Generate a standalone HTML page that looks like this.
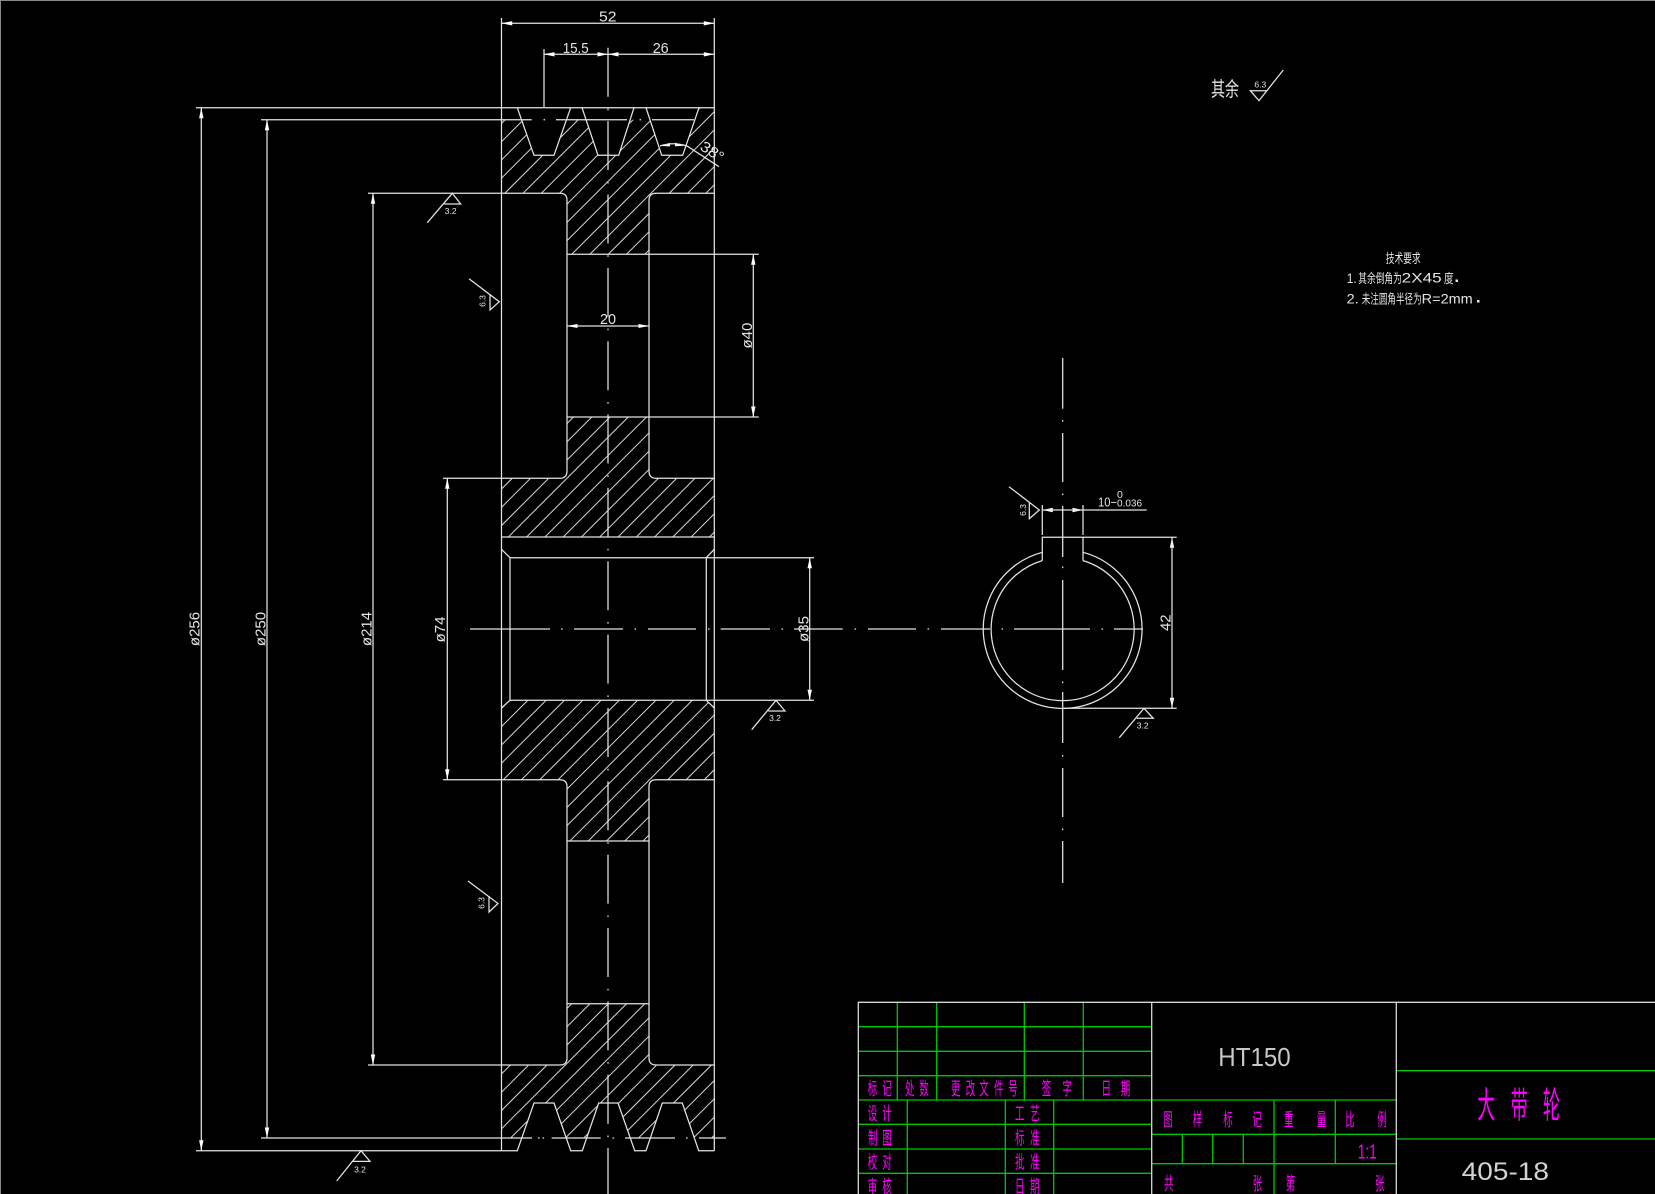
<!DOCTYPE html>
<html><head><meta charset="utf-8"><title>Pulley drawing</title>
<style>
html,body{margin:0;padding:0;background:#000;width:1655px;height:1194px;overflow:hidden}
svg{display:block}
.l{fill:none;stroke:#e4e4e4;stroke-width:1.25}
.h{fill:none;stroke:#d8d8d8;stroke-width:1}
.g{fill:none;stroke:#00c800;stroke-width:1.3}
.w{fill:none;stroke:#d8d8d8;stroke-width:1.3}
text{font-family:"Liberation Sans","Noto Sans CJK SC",sans-serif}
.d{fill:#e4e4e4;font-size:15px}
.s{fill:#e4e4e4;font-size:8.5px;text-anchor:middle}
.m{fill:#f0f;font-size:18px}
.c{fill:#e4e4e4;font-size:13px}
</style></head><body>
<svg xmlns="http://www.w3.org/2000/svg" width="1655" height="1194" viewBox="0 0 1655 1194">
<rect width="1655" height="1194" fill="#000"/>
<path d="M0 .5H1655M.5 0V1194" stroke="#888" stroke-width="1" fill="none"/>
<defs>
<clipPath id="hc">
<polygon points="501.5,119.7 521.5,119.7 534,155.3 554,155.3 566.5,119.7 586,119.7 598,155.3 618.7,155.3 631,119.7 650,119.7 661.7,155.3 682.7,155.3 695,119.7 699,108 714.3,108 714.3,193 656,193 651,195 649,200 649,254.3 567,254.3 567,200 565,195 560,193 501.5,193"/>
<polygon points="567,417 649,417 649,471 651,476 656,478 714.3,478 714.3,537 501.5,537 501.5,478 560,478 565,476 567,471"/>
<polygon points="510,700.3 706.3,700.3 714.3,708 714.3,780 656,780 651,782 649,787 649,841 567,841 567,787 565,782 560,780 501.5,780 501.5,708"/>
<polygon points="567,1003.7 649,1003.7 649,1058 651,1063 656,1065 714.3,1065 714.3,1138 694.3,1138 682.3,1103 662.3,1103 650.3,1138 630.3,1138 618,1103 598.7,1103 586.7,1138 566.3,1138 554,1103 534,1103 521.7,1138 501.5,1138 501.5,1065 560,1065 565,1063 567,1058"/>
</clipPath>
</defs>
<!-- hatching -->
<path class="h" clip-path="url(#hc)" d="M606.6 0L0 606.6M624.9 0L0 624.9M643.2 0L0 643.2M661.4 0L0 661.4M679.7 0L0 679.7M698 0L0 698M716.3 0L0 716.3M734.6 0L0 734.6M752.8 0L0 752.8M771.1 0L0 771.1M789.4 0L0 789.4M807.7 0L0 807.7M826 0L0 826M844.2 0L0 844.2M862.5 0L0 862.5M880.8 0L0 880.8M899.1 0L0 899.1M917.4 0L0 917.4M935.6 0L0 935.6M953.9 0L0 953.9M972.2 0L0 972.2M990.5 0L0 990.5M1008.8 0L0 1008.8M1027 0L0 1027M1045.3 0L0 1045.3M1063.6 0L0 1063.6M1081.9 0L0 1081.9M1100.2 0L0 1100.2M1118.4 0L0 1118.4M1136.7 0L0 1136.7M1155 0L0 1155M1173.3 0L0 1173.3M1191.6 0L0 1191.6M1209.8 0L0 1209.8M1228.1 0L0 1228.1M1246.4 0L0 1246.4M1264.7 0L0 1264.7M1283 0L0 1283M1301.2 0L0 1301.2M1319.5 0L0 1319.5M1337.8 0L0 1337.8M1356.1 0L0 1356.1M1374.4 0L0 1374.4M1392.6 0L0 1392.6M1410.9 0L0 1410.9M1429.2 0L0 1429.2M1447.5 0L0 1447.5M1465.8 0L0 1465.8M1484 0L0 1484M1502.3 0L0 1502.3M1520.6 0L0 1520.6M1538.9 0L0 1538.9M1557.2 0L0 1557.2M1575.4 0L0 1575.4M1593.7 0L0 1593.7M1612 0L0 1612M1630.3 0L0 1630.3M1648.6 0L0 1648.6M1666.8 0L0 1666.8M1685.1 0L0 1685.1M1703.4 0L0 1703.4M1721.7 0L0 1721.7M1740 0L0 1740M1758.2 0L0 1758.2M1776.5 0L0 1776.5M1794.8 0L0 1794.8M1813.1 0L0 1813.1M1831.4 0L0 1831.4M1849.6 0L0 1849.6M1867.9 0L0 1867.9"/>
<!-- section outline -->
<path class="l" d="M501.5 18V1150.7M714.3 18V1150.7"/>
<path class="l" d="M196 107.7H714.3M517.3 107.7L534 155.3H554L570.7 107.7M582 107.7L598 155.3H618.7L634 107.7M646 107.7L661.7 155.3H682.7L699 107.7"/>
<path class="l" d="M196 1150.7H517.3L534 1103H554L570.7 1150.7H582.3L598.7 1103H618L634.7 1150.7H646L662.3 1103H682.3L698.7 1150.7H714.3"/>
<path class="l" d="M368 193.3H560Q567 193.3 567 200.3V471Q567 478.3 560 478.3H443"/>
<path class="l" d="M714.3 193.3H656Q649 193.3 649 200.3V471Q649 478.3 656 478.3H714.3"/>
<path class="l" d="M443 779.7H560Q567 779.7 567 786.7V1058Q567 1065 560 1065H368"/>
<path class="l" d="M714.3 779.7H656Q649 779.7 649 786.7V1058Q649 1065 656 1065H714.3"/>
<path class="l" d="M567 254.3H758.7M567 417H758.7M567 841H649M567 1003.7H649"/>
<path class="l" d="M501.5 537H714.3M501.5 549.3L510 557.7M714.3 549.3L706.3 557.7M501.5 708L510 700.3M714.3 708L706.3 700.3"/>
<path class="l" d="M510 557.7H814M510 700.3H814M510 557.7V700.3M706.3 557.7V700.3"/>
<!-- center lines -->
<path class="l" d="M608 47.8V1194" stroke-dasharray="49 11.8 1.6 10.95"/>
<path class="l" d="M470 629H550M561 629h1.6M574 629H623M634.5 629h1.6M648 629H696M708 629h1.6M720.7 629H770M781.5 629h1.6M794 629H842.7M854.5 629h1.6M868 629H916M927.5 629h1.6M941 629H990M1001.5 629h1.6M1014 629H1090M1101.5 629h1.6M1114 629H1143"/>
<path class="l" d="M261 119.7H531.7M543.5 119.7h1.6M556 119.7H627M639.5 119.7h1.6M652 119.7H694"/>
<path class="l" d="M261 1138H532M538 1138h1.6M542.5 1138h1.6M551.7 1138H600.7M612.5 1138h1.6M625 1138H675M686 1138h1.6M699 1138H726"/>
<path class="l" d="M1062.7 358V408.7M1062.7 420v1.6M1062.7 433V482M1062.7 493.5v1.6M1062.7 506V557M1062.7 566.5v1.6M1062.7 580V670M1062.7 681.5v1.6M1062.7 692V743M1062.7 755v1.6M1062.7 768V817M1062.7 828.5v1.6M1062.7 841V883"/>
<!-- dimension lines -->
<path class="l" d="M201.3 107.7V1150.7M267 119.7V1138M373 193.3V1065M447.3 478.3V779.7M753.3 254.3V417M809.7 557.7V700.3"/>
<path class="l" d="M501.7 23.3H714.3M544 54.3H714.3M544 49V107M567 326H649"/>
<!-- arrowheads -->
<path fill="#fff" d="M501.7 23.3l10.5 -2.2v4.4zM714.3 23.3l-10.5 -2.2v4.4zM544 54.3l10.5 -2.2v4.4zM608 54.3l-10.5 -2.2v4.4zM608 54.3l10.5 -2.2v4.4zM714.3 54.3l-10.5 -2.2v4.4zM567 326l10.5 -2v4zM649 326l-10.5 -2v4zM1042.3 510l10.5 -2.2v4.4zM1083 510l-10.5 -2.2v4.4zM201.3 107.7l-2.2 10.5h4.4zM201.3 1150.7l-2.2 -10.5h4.4zM267 119.7l-2.2 10.5h4.4zM267 1138l-2.2 -10.5h4.4zM373 193.3l-2.2 10.5h4.4zM373 1065l-2.2 -10.5h4.4zM447.3 478.3l-2.2 10.5h4.4zM447.3 779.7l-2.2 -10.5h4.4zM753.3 254.3l-2.2 10.5h4.4zM753.3 417l-2.2 -10.5h4.4zM809.7 557.7l-2.2 10.5h4.4zM809.7 700.3l-2.2 -10.5h4.4zM1172 537.3l-2.2 10.5h4.4zM1172 708.3l-2.2 -10.5h4.4zM661 146l9 -3.2v3.6zM684 145.8l-9 -3.2v3.6z"/>
<!-- angle -->
<path class="l" d="M660 146Q673 141.5 687 146L719 166.7"/>
<text class="d" transform="translate(699 149) rotate(33)" textLength="25" lengthAdjust="spacingAndGlyphs">38°</text>
<!-- dim text -->
<text class="d" x="599" y="21.3" textLength="17.5" lengthAdjust="spacingAndGlyphs">52</text>
<text class="d" x="562.7" y="53" textLength="26" lengthAdjust="spacingAndGlyphs">15.5</text>
<text class="d" x="652.7" y="53" textLength="16" lengthAdjust="spacingAndGlyphs">26</text>
<text class="d" x="600" y="324" textLength="16" lengthAdjust="spacingAndGlyphs">20</text>
<text class="d" text-anchor="middle" transform="translate(199.3 629) rotate(-90)">ø256</text>
<text class="d" text-anchor="middle" transform="translate(265.3 629) rotate(-90)">ø250</text>
<text class="d" text-anchor="middle" transform="translate(371.7 629) rotate(-90)">ø214</text>
<text class="d" text-anchor="middle" transform="translate(445 629.5) rotate(-90)">ø74</text>
<text class="d" text-anchor="middle" transform="translate(752 335.6) rotate(-90)">ø40</text>
<text class="d" text-anchor="middle" transform="translate(808.3 629) rotate(-90)">ø35</text>
<text class="d" text-anchor="middle" transform="translate(1170.7 622.7) rotate(-90)">42</text>
<!-- key view -->
<path class="l" d="M1042.3 552.3A79.4 79.4 0 1 0 1083 552.3M1042.3 560.6A71.5 71.5 0 1 0 1083 560.6"/>
<path class="l" d="M1042.3 560.6V537.3H1083V560.6M1042.3 505V535M1083 505V535M1042.3 510H1146.7"/>
<path class="l" d="M1083 537.3H1176.7M1062.7 708.3H1176.7M1172 537.3V708.3"/>
<text class="d" style="font-size:12.5px" x="1098" y="506.7" textLength="19" lengthAdjust="spacingAndGlyphs">10−</text>
<text class="d" style="font-size:10.5px" x="1117" y="506.7" textLength="25" lengthAdjust="spacingAndGlyphs">0.036</text>
<text class="d" style="font-size:10.5px" x="1117" y="498">0</text>
<!-- surface marks -->
<path class="l" d="M427.3 222.7L452.3 193.3L460.7 204H444.3"/>
<text class="s" x="450.7" y="214">3.2</text>
<path class="l" d="M751.7 729.7L776 700.3L785 711H768.3"/>
<text class="s" x="775" y="721">3.2</text>
<path class="l" d="M336.7 1181L361 1150.7L370 1161.4H353"/>
<text class="s" x="360" y="1172.5">3.2</text>
<path class="l" d="M1119.3 737.7L1144 708.3L1153.3 718.3H1136.7"/>
<text class="s" x="1142.7" y="728.5">3.2</text>
<path class="l" d="M469 278.7L499.3 301.7L490 310V294"/>
<text class="s" transform="translate(485.7 301) rotate(-90)">6.3</text>
<path class="l" d="M468 881L498 903.5L489 912V896"/>
<text class="s" transform="translate(484.7 903) rotate(-90)">6.3</text>
<path class="l" d="M1009 486.7L1039.3 510L1029.3 518.7V502.7"/>
<text class="s" transform="translate(1026 510) rotate(-90)">6.3</text>
<!-- other text top right -->
<text fill="#e4e4e4" font-size="20" x="1211" y="96" textLength="28" lengthAdjust="spacingAndGlyphs">其余</text>
<path class="l" d="M1267.3 90.7H1250.3L1259 100.7L1283.3 70"/>
<text class="s" x="1260.3" y="87.5">6.3</text>
<text class="c" x="1385.7" y="263" textLength="35" lengthAdjust="spacingAndGlyphs">技术要求</text>
<text class="c" x="1346.7" y="283" style="font-size:14px" textLength="10" lengthAdjust="spacingAndGlyphs">1.</text>
<text class="c" x="1358.3" y="283" textLength="43.5" lengthAdjust="spacingAndGlyphs">其余倒角为</text>
<text class="c" x="1401.7" y="282.7" style="font-size:14px" textLength="40" lengthAdjust="spacingAndGlyphs">2X45</text>
<text class="c" x="1444" y="283" textLength="9.5" lengthAdjust="spacingAndGlyphs">度</text>
<rect x="1455.5" y="279.5" width="2.5" height="2.5" fill="#e4e4e4"/>
<text class="c" x="1346.7" y="303.3" style="font-size:14px" textLength="12" lengthAdjust="spacingAndGlyphs">2.</text>
<text class="c" x="1361.7" y="303.5" textLength="60" lengthAdjust="spacingAndGlyphs">未注圆角半径为</text>
<text class="c" x="1421.7" y="303.3" style="font-size:14px" textLength="51" lengthAdjust="spacingAndGlyphs">R=2mm</text>
<rect x="1477" y="300" width="2.5" height="2.5" fill="#e4e4e4"/>
<!-- title block -->
<path class="g" d="M897.3 1002.3V1100M936.7 1002.3V1100M1024.3 1002.3V1100M1083.3 1002.3V1100M858.3 1026.7H1151.7M858.3 1051.3H1151.7M858.3 1075.7H1151.7M858.3 1100H1396.3"/>
<path class="g" d="M907.3 1100V1194M1005.3 1100V1194M1053.7 1100V1194M858.3 1124.3H1151.7M858.3 1149H1151.7M858.3 1173.3H1151.7"/>
<path class="g" d="M1151.7 1134.3H1396.3M1151.7 1163.7H1396.3M1274 1100V1194M1335.3 1100V1163.7M1182.3 1134.3V1163.7M1212.7 1134.3V1163.7M1243.3 1134.3V1163.7M1396.3 1070.7H1655M1396.3 1139H1655"/>
<path class="w" d="M858.3 1194V1002.3H1655M1151.7 1002.3V1194M1396.3 1002.3V1194"/>
<!-- title text -->
<text class="m" x="867.7" y="1095" textLength="9.5" lengthAdjust="spacingAndGlyphs">标</text>
<text class="m" x="882.3" y="1095" textLength="9.5" lengthAdjust="spacingAndGlyphs">记</text>
<text class="m" x="905" y="1095" textLength="9.5" lengthAdjust="spacingAndGlyphs">处</text>
<text class="m" x="919.3" y="1095" textLength="9.5" lengthAdjust="spacingAndGlyphs">数</text>
<text class="m" x="951" y="1095" textLength="9.5" lengthAdjust="spacingAndGlyphs">更</text>
<text class="m" x="965.7" y="1095" textLength="9.5" lengthAdjust="spacingAndGlyphs">改</text>
<text class="m" x="979.3" y="1095" textLength="9.5" lengthAdjust="spacingAndGlyphs">文</text>
<text class="m" x="994" y="1095" textLength="9.5" lengthAdjust="spacingAndGlyphs">件</text>
<text class="m" x="1008.3" y="1095" textLength="9.5" lengthAdjust="spacingAndGlyphs">号</text>
<text class="m" x="1041.7" y="1095" textLength="9.5" lengthAdjust="spacingAndGlyphs">签</text>
<text class="m" x="1062.3" y="1095" textLength="9.5" lengthAdjust="spacingAndGlyphs">字</text>
<text class="m" x="1101.5" y="1095" textLength="9.5" lengthAdjust="spacingAndGlyphs">日</text>
<text class="m" x="1120.7" y="1095" textLength="9.5" lengthAdjust="spacingAndGlyphs">期</text>
<text class="m" x="867.7" y="1120" textLength="9.5" lengthAdjust="spacingAndGlyphs">设</text>
<text class="m" x="882.3" y="1120" textLength="9.5" lengthAdjust="spacingAndGlyphs">计</text>
<text class="m" x="868" y="1144.5" textLength="9.5" lengthAdjust="spacingAndGlyphs">制</text>
<text class="m" x="882.3" y="1144.5" textLength="9.5" lengthAdjust="spacingAndGlyphs">图</text>
<text class="m" x="867.7" y="1168.5" textLength="9.5" lengthAdjust="spacingAndGlyphs">校</text>
<text class="m" x="882.3" y="1168.5" textLength="9.5" lengthAdjust="spacingAndGlyphs">对</text>
<text class="m" x="867.7" y="1192.8" textLength="9.5" lengthAdjust="spacingAndGlyphs">审</text>
<text class="m" x="882.3" y="1192.8" textLength="9.5" lengthAdjust="spacingAndGlyphs">核</text>
<text class="m" x="1015" y="1120" textLength="9.5" lengthAdjust="spacingAndGlyphs">工</text>
<text class="m" x="1030" y="1120" textLength="9.5" lengthAdjust="spacingAndGlyphs">艺</text>
<text class="m" x="1015" y="1144.5" textLength="9.5" lengthAdjust="spacingAndGlyphs">标</text>
<text class="m" x="1030" y="1144.5" textLength="9.5" lengthAdjust="spacingAndGlyphs">准</text>
<text class="m" x="1015" y="1168.5" textLength="9.5" lengthAdjust="spacingAndGlyphs">批</text>
<text class="m" x="1030" y="1168.5" textLength="9.5" lengthAdjust="spacingAndGlyphs">准</text>
<text class="m" x="1015" y="1192.8" textLength="9.5" lengthAdjust="spacingAndGlyphs">日</text>
<text class="m" x="1030" y="1192.8" textLength="9.5" lengthAdjust="spacingAndGlyphs">期</text>
<text class="m" x="1163.3" y="1126" textLength="9.5" lengthAdjust="spacingAndGlyphs">图</text>
<text class="m" x="1192.7" y="1126" textLength="9.5" lengthAdjust="spacingAndGlyphs">样</text>
<text class="m" x="1223.3" y="1126" textLength="9.5" lengthAdjust="spacingAndGlyphs">标</text>
<text class="m" x="1252.3" y="1126" textLength="9.5" lengthAdjust="spacingAndGlyphs">记</text>
<text class="m" x="1284" y="1126" textLength="9.5" lengthAdjust="spacingAndGlyphs">重</text>
<text class="m" x="1316.7" y="1126" textLength="9.5" lengthAdjust="spacingAndGlyphs">量</text>
<text class="m" x="1345.3" y="1126" textLength="9.5" lengthAdjust="spacingAndGlyphs">比</text>
<text class="m" x="1377.3" y="1126" textLength="9.5" lengthAdjust="spacingAndGlyphs">例</text>
<text class="m" x="1357.7" y="1158.3" style="font-size:20px" textLength="19" lengthAdjust="spacingAndGlyphs">1:1</text>
<text class="m" x="1164" y="1190" textLength="9.5" lengthAdjust="spacingAndGlyphs">共</text>
<text class="m" x="1252.7" y="1190" textLength="9.5" lengthAdjust="spacingAndGlyphs">张</text>
<text class="m" x="1285.7" y="1190" textLength="9.5" lengthAdjust="spacingAndGlyphs">第</text>
<text class="m" x="1375" y="1190" textLength="9.5" lengthAdjust="spacingAndGlyphs">张</text>
<text class="m" x="1477.3" y="1117.7" style="font-size:36px" textLength="18" lengthAdjust="spacingAndGlyphs">大</text>
<text class="m" x="1510.7" y="1117.7" style="font-size:36px" textLength="17" lengthAdjust="spacingAndGlyphs">带</text>
<text class="m" x="1542.7" y="1117.7" style="font-size:36px" textLength="17.5" lengthAdjust="spacingAndGlyphs">轮</text>
<text fill="#c8c8c8" font-size="26" x="1218.3" y="1066" textLength="72.4" lengthAdjust="spacingAndGlyphs">HT150</text>
<text fill="#d4d4d4" font-size="25" x="1461.7" y="1180" textLength="87.3" lengthAdjust="spacingAndGlyphs">405-18</text>
</svg>
</body></html>
